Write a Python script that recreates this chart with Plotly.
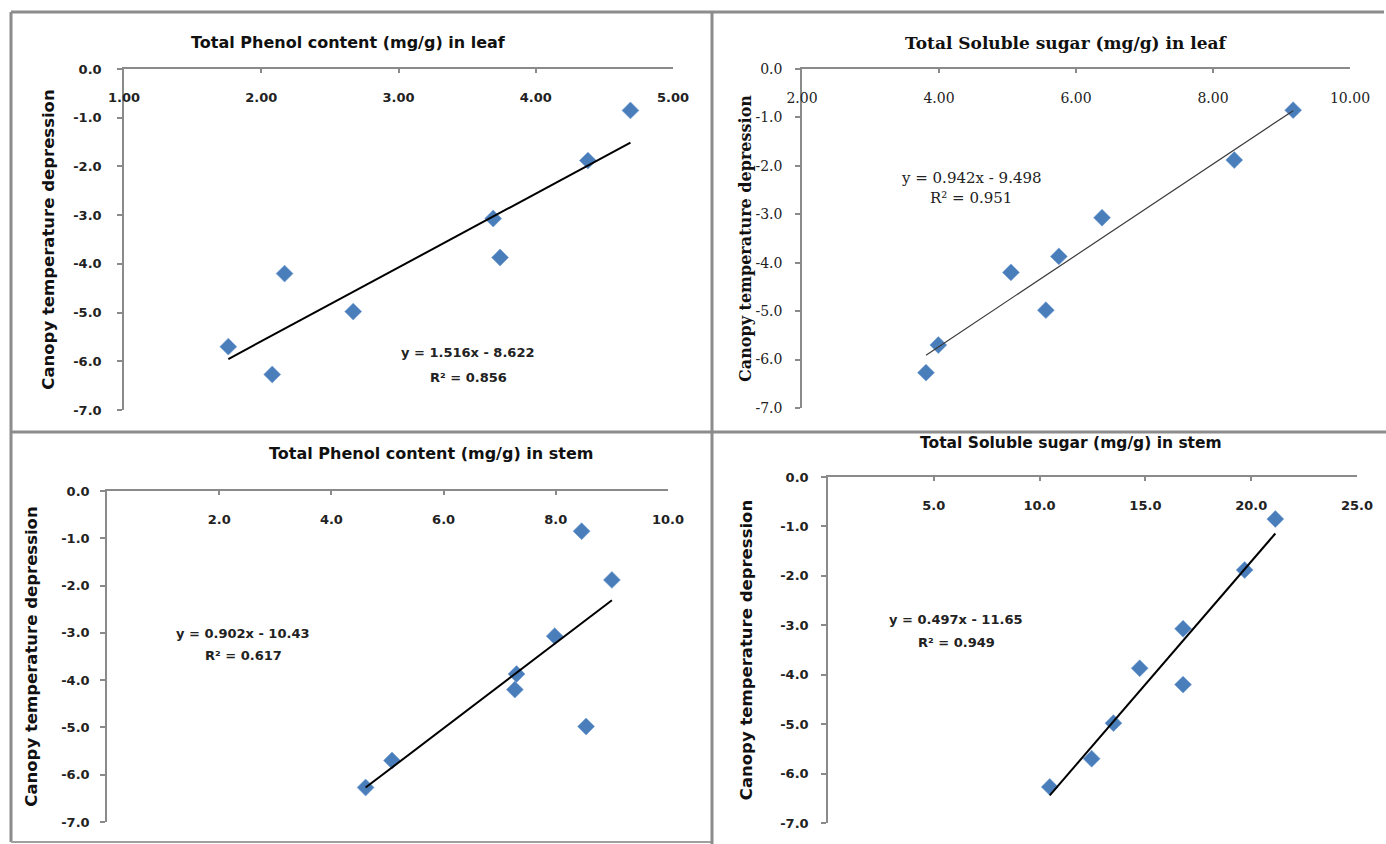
import plotly.graph_objects as go

# ---------------- data ----------------
ctd = [-0.85, -1.88, -3.07, -3.87, -4.20, -4.98, -5.70, -6.27]
phenol_leaf = [4.69, 4.38, 3.69, 3.74, 2.17, 2.67, 1.76, 2.08]
sugar_leaf = [9.17, 8.31, 6.38, 5.75, 5.05, 5.56, 3.99, 3.81]
phenol_stem = [8.46, 9.00, 7.98, 7.30, 7.27, 8.54, 5.08, 4.61]
sugar_stem = [21.14, 19.69, 16.78, 14.73, 16.78, 13.49, 12.46, 10.48]

panel_titles = [
    "Total Phenol content (mg/g) in leaf",
    "Total Soluble sugar (mg/g) in leaf",
    "Total Phenol content (mg/g) in stem",
    "Total Soluble sugar (mg/g) in stem",
]
y_title = "Canopy temperature depression"
slopes = [1.516, 0.942, 0.902, 0.497]
intercepts = [-8.622, -9.498, -10.43, -11.65]
eq_texts = ["y = 1.516x - 8.622", "y = 0.942x - 9.498", "y = 0.902x - 10.43", "y = 0.497x - 11.65"]
r2_texts = ["R² = 0.856", "R² = 0.951", "R² = 0.617", "R² = 0.949"]

x_ranges = [[1, 5], [2, 10], [0, 10], [0, 25]]
x_tickvals = [[1, 2, 3, 4, 5], [2, 4, 6, 8, 10], [2, 4, 6, 8, 10], [5, 10, 15, 20, 25]]
x_ticktext = [["1.00", "2.00", "3.00", "4.00", "5.00"],
              ["2.00", "4.00", "6.00", "8.00", "10.00"],
              ["2.0", "4.0", "6.0", "8.0", "10.0"],
              ["5.0", "10.0", "15.0", "20.0", "25.0"]]
y_tickvals = [0, -1, -2, -3, -4, -5, -6, -7]
y_ticktext = ["0.0", "-1.0", "-2.0", "-3.0", "-4.0", "-5.0", "-6.0", "-7.0"]

xs_all = [phenol_leaf, sugar_leaf, phenol_stem, sugar_stem]

# ---------------- layout helpers ----------------
W, H = 1386, 844


def fx(p):
    return p / W


def fy(p):
    return 1 - p / H


# pixel boxes of plot areas: (x0, x1, ytop, ybottom)
boxes = [(124, 673, 69, 410), (802, 1350, 69, 408), (107, 668, 491, 822), (828, 1357, 477, 823)]
sans = "DejaVu Sans"
serif = "DejaVu Serif"
fonts = [sans, serif, sans, sans]
bold = [True, False, True, True]
ytitle_standoff = [14, 0, 19, 23]
ytick_standoff = [13, 10, 8, 10]
title_pos = [(348, 43), (1066, 43), (431, 454), (1071, 443)]
title_size = [16, 17, 16, 15.5]
eq_pos = [(468, 352, 377), (971, 178, 198), (243, 633, 655), (956, 619, 642)]
marker_color = "#4A7EBB"
line_colors = ["#000000", "#3a3a3a", "#000000", "#000000"]
line_widths = [2, 1.2, 2, 2]
axis_color = "#8a8a8a"

fig = go.Figure()
annotations = []
layout = {}

for i in range(4):
    sfx = "" if i == 0 else str(i + 1)
    xa, ya = "x" + sfx, "y" + sfx
    xs = xs_all[i]
    fam = fonts[i]
    wt = "bold" if bold[i] else "normal"
    tick_size = 13 if bold[i] else 14

    fig.add_trace(go.Scatter(
        x=xs, y=ctd, mode="markers", xaxis=xa, yaxis=ya, showlegend=False,
        marker=dict(symbol="diamond", size=13, color=marker_color,
                    line=dict(width=0.6, color="#6F9BD1")),
    ))
    xmin, xmax = min(xs), max(xs)
    fig.add_trace(go.Scatter(
        x=[xmin, xmax], y=[slopes[i] * xmin + intercepts[i], slopes[i] * xmax + intercepts[i]],
        mode="lines", xaxis=xa, yaxis=ya, showlegend=False,
        line=dict(color=line_colors[i], width=line_widths[i]),
    ))

    x0, x1, yt, yb = boxes[i]
    layout["xaxis" + sfx] = dict(
        domain=[fx(x0), fx(x1)], range=x_ranges[i], anchor=ya, side="top",
        tickmode="array", tickvals=x_tickvals[i], ticktext=x_ticktext[i],
        ticks="inside", ticklen=4, tickcolor=axis_color, tickwidth=1.5,
        ticklabelposition="inside", ticklabeloverflow="allow", ticklabelstandoff=20,
        showline=True, linecolor=axis_color, linewidth=1.5, automargin=False,
        showgrid=False, zeroline=False, fixedrange=True,
        tickfont=dict(family=fam, size=tick_size, color="#222", weight=wt),
    )
    layout["yaxis" + sfx] = dict(
        domain=[fy(yb), fy(yt)], range=[-7, 0], anchor=xa,
        tickmode="array", tickvals=y_tickvals, ticktext=y_ticktext,
        ticks="outside", ticklen=5, tickcolor=axis_color, tickwidth=1.5,
        ticklabelstandoff=ytick_standoff[i], automargin=False,
        showline=True, linecolor=axis_color, linewidth=1.5,
        showgrid=False, zeroline=False, fixedrange=True,
        tickfont=dict(family=fam, size=tick_size, color="#222", weight=wt),
        title=dict(text=y_title, standoff=ytitle_standoff[i],
                   font=dict(family=fam, size=16.5 if bold[i] else 16, color="#111", weight="bold")),
    )

    tx, ty = title_pos[i]
    annotations.append(dict(
        text=panel_titles[i], x=fx(tx), y=fy(ty), xref="paper", yref="paper",
        xanchor="center", yanchor="middle", showarrow=False,
        font=dict(family=fam, size=title_size[i], color="#111", weight="bold"),
    ))
    ex, ey1, ey2 = eq_pos[i]
    for txt, yy in ((eq_texts[i], ey1), (r2_texts[i], ey2)):
        annotations.append(dict(
            text=txt, x=fx(ex), y=fy(yy), xref="paper", yref="paper",
            xanchor="center", yanchor="middle", showarrow=False,
            font=dict(family=fam, size=13 if bold[i] else 15, color="#222", weight=wt),
        ))

frame = "#8c8c8c"
shapes = [
    dict(type="line", xref="paper", yref="paper", x0=fx(11), x1=fx(1384), y0=fy(12), y1=fy(12),
         line=dict(color=frame, width=3)),
    dict(type="line", xref="paper", yref="paper", x0=fx(11), x1=fx(11), y0=fy(12), y1=fy(842),
         line=dict(color=frame, width=3)),
    dict(type="line", xref="paper", yref="paper", x0=fx(11), x1=fx(712), y0=fy(842), y1=fy(842),
         line=dict(color="#a0a0a0", width=2)),
    dict(type="line", xref="paper", yref="paper", x0=fx(712), x1=fx(712), y0=fy(12), y1=fy(844),
         line=dict(color=frame, width=3)),
    dict(type="line", xref="paper", yref="paper", x0=fx(11), x1=fx(1386), y0=fy(432), y1=fy(432),
         line=dict(color=frame, width=3)),
]

fig.update_layout(
    width=W, height=H, margin=dict(l=0, r=0, t=0, b=0, pad=0, autoexpand=False),
    paper_bgcolor="white", plot_bgcolor="white",
    annotations=annotations, shapes=shapes, showlegend=False,
    **layout,
)

fig.write_html("out.html", config={"displayModeBar": False},
               post_script="document.body.style.margin='0';")
